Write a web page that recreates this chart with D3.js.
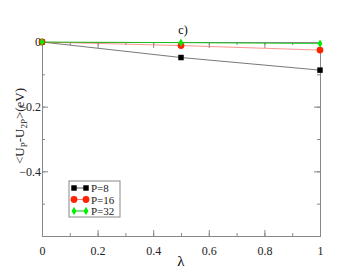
<!DOCTYPE html>
<html>
<head>
<meta charset="utf-8">
<script src="https://cdn.jsdelivr.net/npm/d3@7"></script>
<style>
  body { margin: 0; background: #fff; }
  svg text { font-family: "Liberation Serif", serif !important; }
</style>
</head>
<body>
<svg id="chart" width="360" height="278"></svg>
<script>
const lambdas = [0, 0.5, 1];
const p8 = [0, -0.048, -0.087];
const p16 = [0, -0.011, -0.025];
const p32 = [0, -0.002, -0.005];
const seriesNames = ['P=8', 'P=16', 'P=32'];
const xTicks = [0, 0.2, 0.4, 0.6, 0.8, 1];
const yTicks = [0, -0.2, -0.4];

const svg = d3.select('#chart');
const margin = { top: 42, right: 40, bottom: 42, left: 42 };
const width = +svg.attr('width');
const height = +svg.attr('height');

const x = d3.scaleLinear().domain([0, 1]).range([margin.left, width - margin.right]);
const y = d3.scaleLinear().domain([-0.6, 0]).range([height - margin.bottom, margin.top]);

const axisColor = '#888';

// axes, ticks pointing inward on all four sides
function styleAxis(g) {
    g.attr('font-family', null);
    g.select('.domain').attr('stroke', axisColor);
    g.selectAll('.tick line').attr('stroke', axisColor);
    g.selectAll('text').attr('font-size', 12).attr('fill', '#222');
}
const minorX = d3.range(0, 1.01, 0.1);
const minorY = d3.range(-0.6, 0.001, 0.1);

svg.append('g')
    .attr('transform', `translate(0,${y(-0.6)})`)
    .call(d3.axisBottom(x).tickValues(minorX).tickSize(-3).tickFormat(''))
    .call(styleAxis);
svg.append('g')
    .attr('transform', `translate(0,${y(-0.6)})`)
    .call(d3.axisBottom(x).tickValues(xTicks).tickSize(-6).tickPadding(10).tickFormat(d3.format('')))
    .call(styleAxis);
svg.append('g')
    .attr('transform', `translate(0,${y(0)})`)
    .call(d3.axisTop(x).tickValues(minorX).tickSize(-3).tickFormat(''))
    .call(styleAxis);
svg.append('g')
    .attr('transform', `translate(0,${y(0)})`)
    .call(d3.axisTop(x).tickValues(xTicks).tickSize(-6).tickFormat(''))
    .call(styleAxis);
svg.append('g')
    .attr('transform', `translate(${x(0)},0)`)
    .call(d3.axisLeft(y).tickValues(minorY).tickSize(-3).tickFormat(''))
    .call(styleAxis);
svg.append('g')
    .attr('transform', `translate(${x(0)},0)`)
    .call(d3.axisLeft(y).tickValues(yTicks).tickSize(-6).tickPadding(1).tickFormat(d3.format('')))
    .call(styleAxis);
svg.append('g')
    .attr('transform', `translate(${x(1)},0)`)
    .call(d3.axisRight(y).tickValues(minorY).tickSize(-3).tickFormat(''))
    .call(styleAxis);
svg.append('g')
    .attr('transform', `translate(${x(1)},0)`)
    .call(d3.axisRight(y).tickValues(yTicks).tickSize(-6).tickFormat(''))
    .call(styleAxis);

// series
const series = [
    { name: seriesNames[0], values: p8, color: '#000', line: '#555', shape: d3.symbolSquare, size: 30 },
    { name: seriesNames[1], values: p16, color: '#ff2200', line: '#ff7777', shape: d3.symbolCircle, size: 36 },
    { name: seriesNames[2], values: p32, color: '#00ee00', line: '#00cc00', shape: d3.symbolDiamond, size: 20 }
];
const line = d3.line().x((d, i) => x(lambdas[i])).y(d => y(d));

series.forEach(s => {
    svg.append('path')
        .attr('d', line(s.values))
        .attr('fill', 'none')
        .attr('stroke', s.line)
        .attr('stroke-width', 0.8);
    svg.selectAll(null)
        .data(s.values)
        .enter()
        .append('path')
        .attr('d', d3.symbol().type(s.shape).size(s.size))
        .attr('transform', (d, i) => `translate(${x(lambdas[i])},${y(d)})`)
        .attr('fill', s.color);
});

// legend
const legend = svg.append('g').attr('transform', 'translate(69,181)');
legend.append('rect')
    .attr('width', 51).attr('height', 36)
    .attr('fill', '#fff').attr('stroke', '#888');
series.forEach((s, i) => {
    const ly = 7 + i * 11.5;
    legend.append('line')
        .attr('x1', 5).attr('x2', 17).attr('y1', ly).attr('y2', ly)
        .attr('stroke', s.line);
    [5, 17].forEach(lx => {
        legend.append('path')
            .attr('d', d3.symbol().type(s.shape).size(s.size))
            .attr('transform', `translate(${lx},${ly})`)
            .attr('fill', s.color);
    });
    legend.append('text')
        .attr('x', 22).attr('y', ly + 4)
        .attr('font-size', 11).attr('fill', '#222')
        .text(s.name);
});

// title and axis labels
svg.append('text')
    .attr('x', 183).attr('y', 34)
    .attr('text-anchor', 'middle')
    .attr('font-size', 12)
    .text('c)');

svg.append('text')
    .attr('x', 181).attr('y', 266)
    .attr('text-anchor', 'middle')
    .attr('font-size', 15)
    .text('λ');

const yLabel = svg.append('text')
    .attr('transform', 'translate(24,126) rotate(-90)')
    .attr('text-anchor', 'middle')
    .attr('font-size', 13)
    .attr('fill', '#222');
yLabel.append('tspan').text('<U');
yLabel.append('tspan').attr('font-size', 9).attr('dy', 3).text('P');
yLabel.append('tspan').attr('dy', -3).text('-U');
yLabel.append('tspan').attr('font-size', 9).attr('dy', 3).text('2P');
yLabel.append('tspan').attr('dy', -3).text('>(eV)');
</script>
</body>
</html>
